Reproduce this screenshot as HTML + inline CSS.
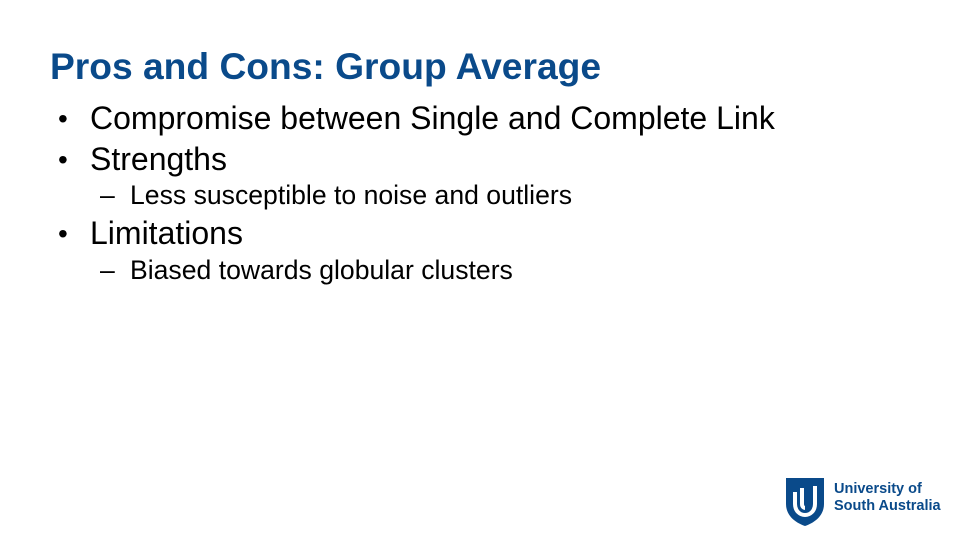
<!DOCTYPE html>
<html><head><meta charset="utf-8"><style>
body{margin:0;width:960px;height:540px;background:#fff;position:relative;overflow:hidden;font-family:"Liberation Sans",Arial,sans-serif}
.a{position:absolute;white-space:nowrap;line-height:1}
.t{left:50px;top:48px;font-size:37.2px;font-weight:bold;color:#0a4a8a}
.b{font-size:32px;color:#000}
.s{font-size:26.6px;color:#000}
.d{font-size:28px;color:#000}
</style></head><body>
<div class="a t">Pros and Cons: Group Average</div>
<div class="a d" style="left:58px;top:105px">•</div>
<div class="a b" style="left:90px;top:102px">Compromise between Single and Complete Link</div>
<div class="a d" style="left:58px;top:146px">•</div>
<div class="a b" style="left:90px;top:143px">Strengths</div>
<div class="a s" style="left:100px;top:182px">–</div>
<div class="a s" style="left:130px;top:182px">Less susceptible to noise and outliers</div>
<div class="a d" style="left:58px;top:220px">•</div>
<div class="a b" style="left:90px;top:217px">Limitations</div>
<div class="a s" style="left:100px;top:257px">–</div>
<div class="a s" style="left:130px;top:257px">Biased towards globular clusters</div>
<svg class="a" style="left:786px;top:478px" width="40" height="48" viewBox="0 0 40 48">
<path d="M0 0H38V26C38 38 28 45 19 48C10 45 0 38 0 26Z" fill="#0a4a8a"/>
<path d="M9 14V26C9 33 14 37 19 37C24 37 29 33 29 26V8" fill="none" stroke="#fff" stroke-width="4"/>
<path d="M16 10V26C16 29 18 30 19 30" fill="none" stroke="#fff" stroke-width="4"/>
</svg>
<div class="a" style="left:834px;top:481px;font-size:14.5px;font-weight:bold;color:#0a4a8a;line-height:17px">University of<br>South Australia</div>
</body></html>
